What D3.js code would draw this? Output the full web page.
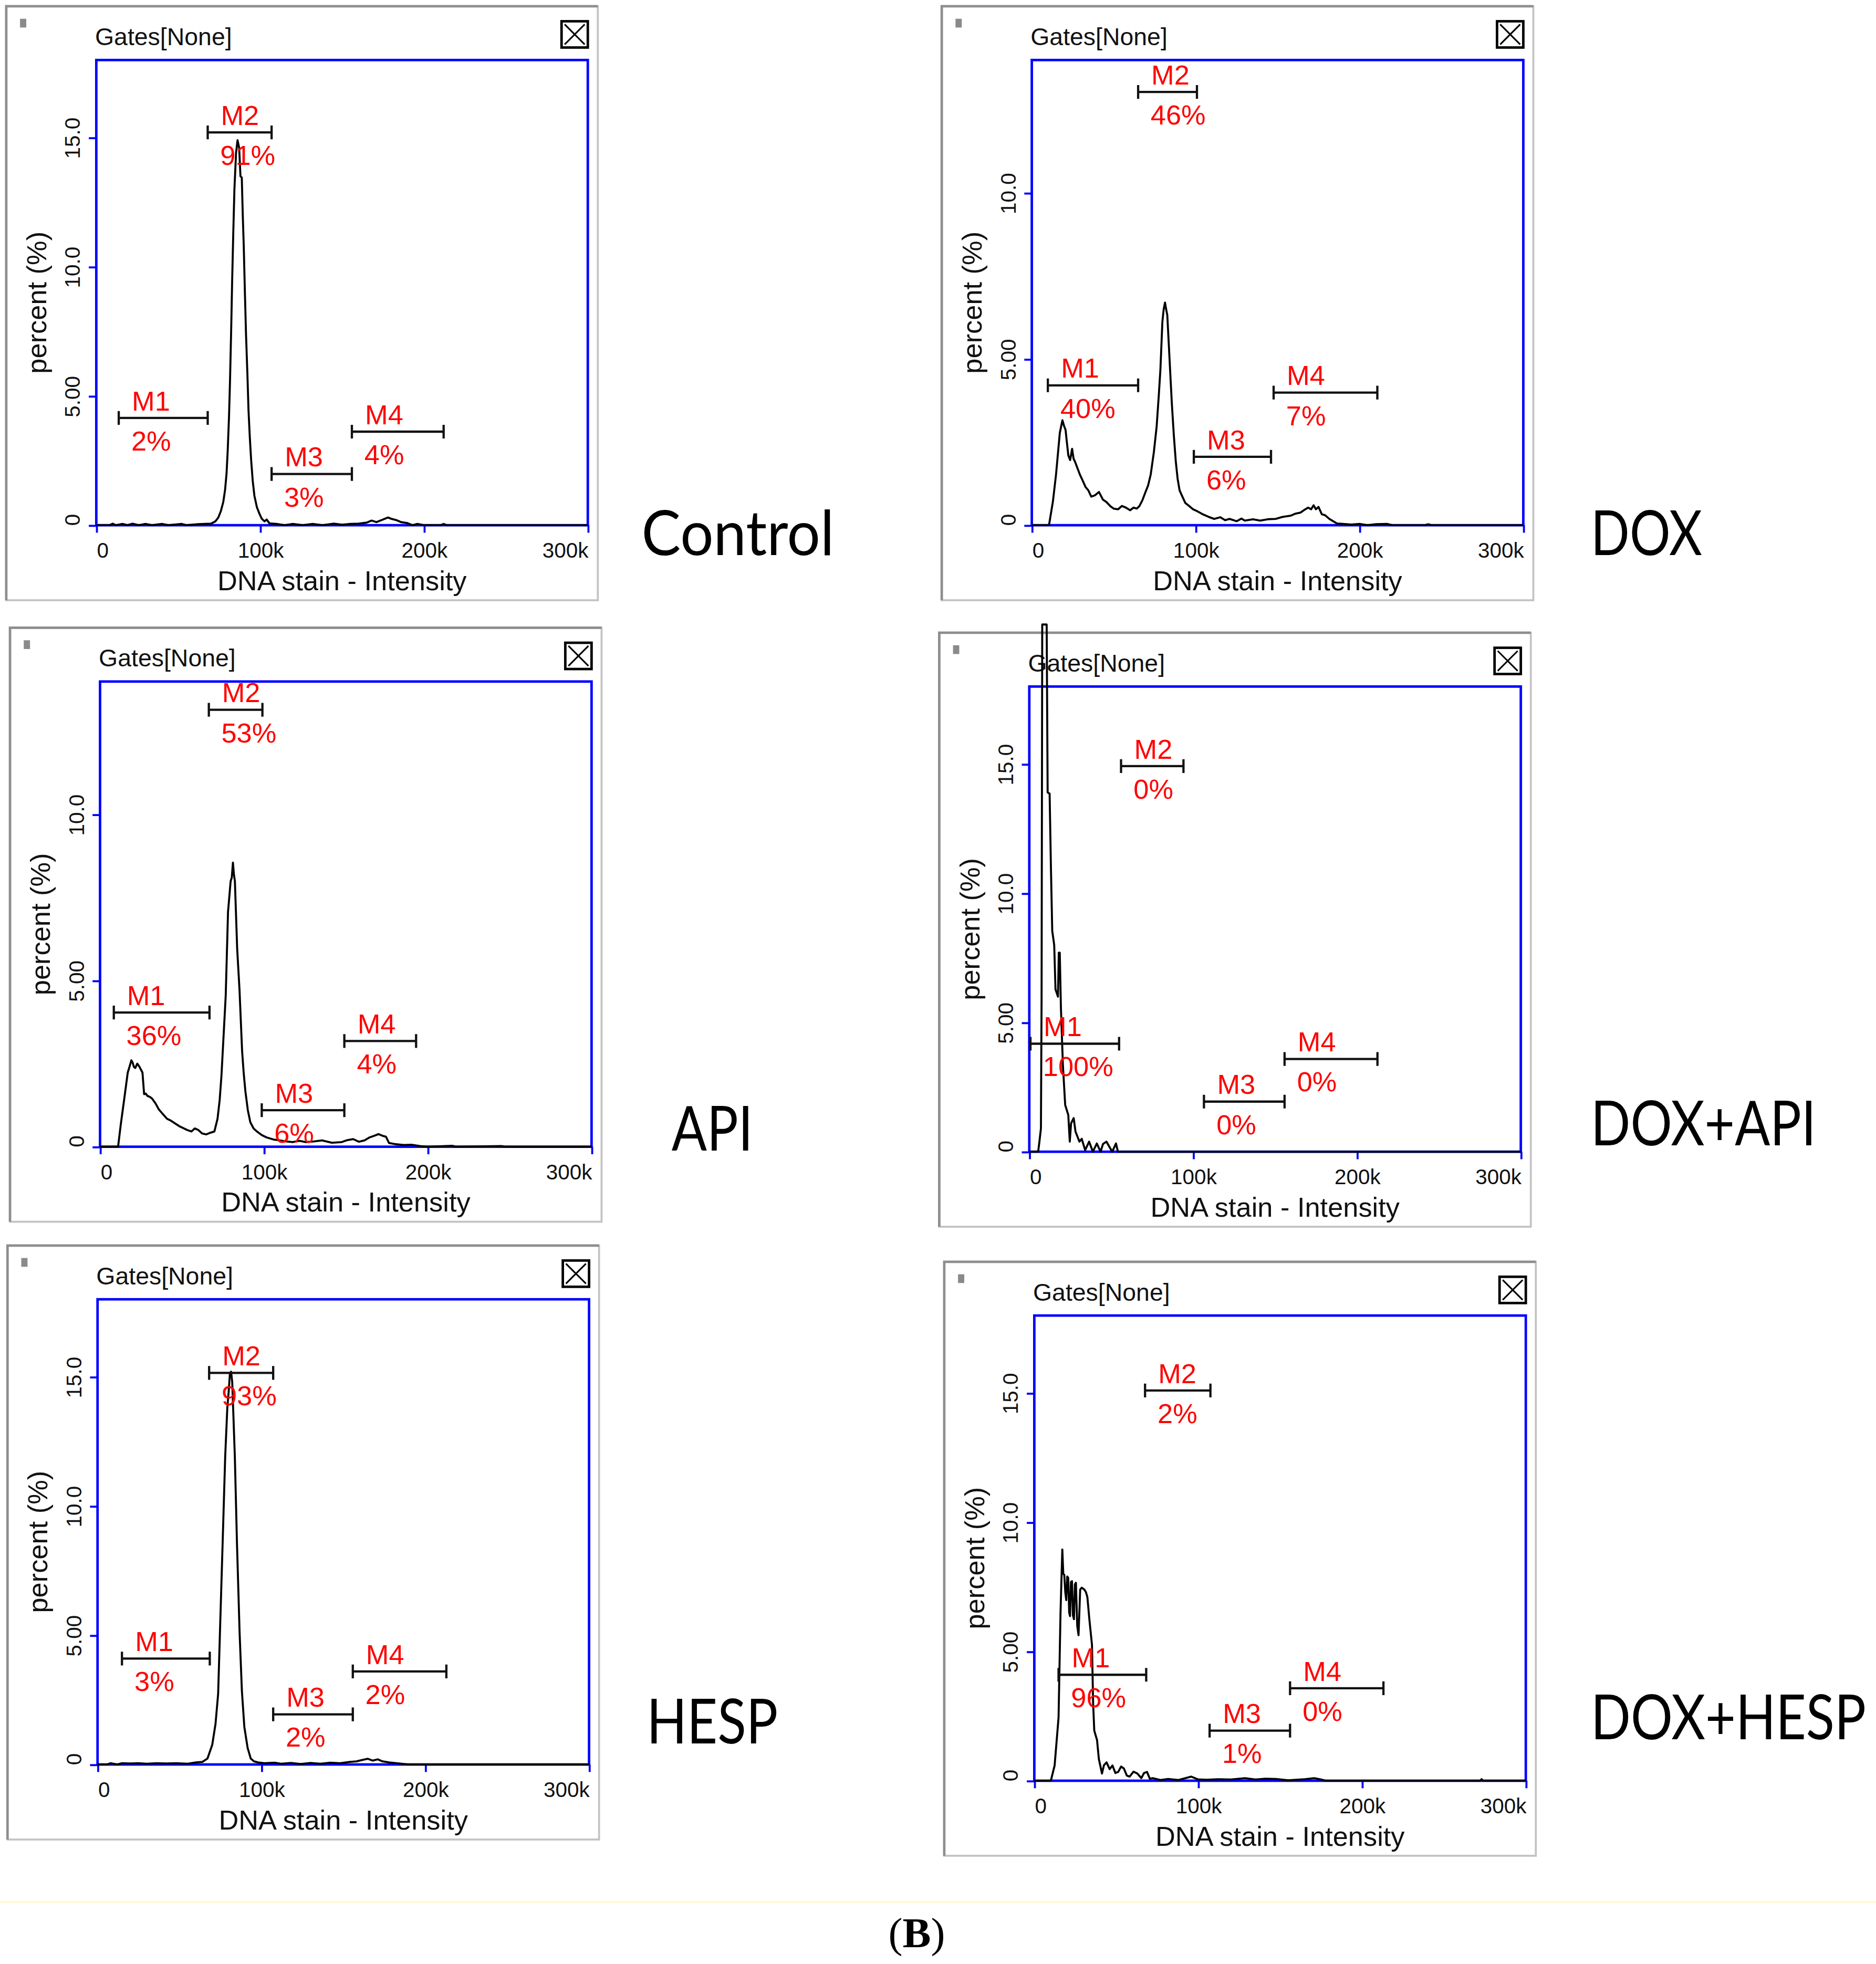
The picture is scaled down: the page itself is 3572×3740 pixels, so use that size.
<!DOCTYPE html>
<html>
<head>
<meta charset="utf-8">
<script src="https://cdn.jsdelivr.net/npm/d3@7"></script>
<style>
  body { margin: 0; background: #fff; }
  svg { display: block; }
</style>
</head>
<body>
<div id="chart"></div>
<script>
// panel names, y ranges, ticks
var panelNames = ["Control", "DOX", "API", "DOX+API", "HESP", "DOX+HESP"];
var yMaxes = [18, 14, 14, 18, 18, 18];
var yTicks = [[0, 5, 10, 15], [0, 5, 10], [0, 5, 10], [0, 5, 10, 15], [0, 5, 10, 15], [0, 5, 10, 15]];
var xTickValues = [0, 100, 200, 300];
var xTickLabels = ["0", "100k", "200k", "300k"];
var gateNames = ["M1", "M2", "M3", "M4"];

// gates: [start (k), end (k), height (%)]
var controlGates = [[13.7, 68, 4.15], [68, 107, 15.2], [107, 156, 1.98], [156, 212, 3.62]];
var doxGates = [[9.8, 64.9, 4.21], [64.9, 100.8, 13.04], [98.9, 146, 2.06], [147.6, 210.9, 3.99]];
var apiGates = [[8.4, 66.8, 4.04], [66.4, 99.1, 13.15], [98.7, 149.1, 1.1], [149.1, 192.9, 3.18]];
var doxApiGates = [[0.7, 54.8, 4.18], [56, 94.1, 14.92], [106.6, 155.8, 1.94], [155.8, 212.5, 3.59]];
var hespGates = [[14.9, 68.5, 4.1], [68.1, 107.2, 15.15], [107.2, 155.8, 1.94], [155.8, 212.9, 3.6]];
var doxHespGates = [[14.8, 68.3, 4.1], [67.6, 107.5, 15.1], [107, 156.1, 1.94], [156.1, 213.1, 3.58]];

var controlPct = ["2%", "91%", "3%", "4%"];
var doxPct = ["40%", "46%", "6%", "7%"];
var apiPct = ["36%", "53%", "6%", "4%"];
var doxApiPct = ["100%", "0%", "0%", "0%"];
var hespPct = ["3%", "93%", "2%", "2%"];
var doxHespPct = ["96%", "2%", "1%", "0%"];

// histograms: [DNA stain intensity (k), percent]
var controlHist = [[0,0],[8,0],[10,0.06],[12,0],[16,0.05],[19,0],[22,0.06],[26,0],[30,0.05],[34,0],[40,0.05],[44,0],[52,0.05],[55,0],[62,0.04],[70,0.06],[72.7,0.15],[74.5,0.3],[76.1,0.56],[77.5,0.9],[78.6,1.37],[79.5,2.0],[80.2,2.88],[81,4.2],[81.6,5.55],[82.3,7.5],[82.9,9.4],[83.6,11.3],[84.3,13.0],[85.3,14.4],[86.2,14.9],[87.2,14.6],[88,13.5],[88.8,13.45],[89.4,12.0],[90.0,10.8],[90.7,9.0],[91.4,7.35],[92.2,5.9],[92.9,4.45],[93.7,3.4],[94.5,2.53],[95.5,1.7],[96.5,1.14],[98,0.7],[99.6,0.44],[101,0.25],[102.7,0.15],[104,0.22],[105.7,0.07],[110,0.05],[115,0],[120,0.05],[126,0],[132,0.05],[138,0],[145,0.06],[150,0.02],[155,0.05],[160,0.06],[165,0.1],[168,0.18],[171,0.12],[175,0.22],[178,0.3],[180,0.25],[183,0.2],[186,0.12],[190,0.08],[193,0],[196,0.05],[200,0],[210,0],[212,0.05],[214,0],[300,0]];
var doxHist = [[0,0],[10.5,0],[12.9,0.72],[14.8,1.53],[17.1,2.78],[18.7,3.16],[19.6,3.0],[20.6,2.87],[21.4,2.5],[22.3,2.1],[23.4,1.96],[24.6,2.3],[25.5,2.0],[26.4,1.91],[28,1.7],[29.3,1.53],[31,1.35],[32.8,1.15],[34.5,1.05],[36.3,0.86],[38.5,0.9],[41,1.0],[43.4,0.77],[45.5,0.7],[48,0.57],[50,0.5],[52.7,0.48],[55,0.58],[57.4,0.53],[60,0.45],[62.1,0.53],[64,0.5],[65.6,0.57],[67.5,0.75],[69.1,0.96],[71,1.2],[72.6,1.53],[74.5,2.2],[76.2,2.97],[77.5,3.9],[78.5,4.69],[79.7,6.12],[80.5,6.5],[81.3,6.7],[82,6.5],[82.7,6.32],[83.9,5.17],[84.7,4.4],[85.5,3.64],[86.7,2.7],[87.9,1.91],[89,1.4],[90.2,1.05],[92,0.85],[93.7,0.67],[96,0.58],[98.4,0.48],[101,0.42],[104.3,0.33],[108,0.25],[111.3,0.19],[115,0.24],[118,0.15],[120.7,0.19],[125,0.12],[128,0.2],[130,0.14],[135,0.18],[139.4,0.14],[144,0.18],[148.8,0.19],[153,0.25],[158.2,0.29],[161,0.35],[164,0.38],[166,0.45],[168.7,0.53],[170.5,0.48],[172,0.6],[173.4,0.48],[175,0.55],[177,0.33],[179,0.3],[181.6,0.19],[184,0.12],[186.3,0.05],[190,0.04],[195,0.02],[200,0.04],[205,0],[210,0.03],[216.8,0.04],[220,0],[240,0],[242,0.03],[244,0],[300,0]];
var apiHist = [[0,0],[11,0],[12.6,0.65],[14.9,1.49],[16.9,2.23],[18.3,2.46],[19.1,2.6],[19.9,2.53],[20.7,2.4],[21.5,2.37],[22.7,2.5],[23.9,2.42],[25.9,2.23],[26.9,1.58],[27.9,1.6],[28.9,1.53],[30.4,1.5],[31.9,1.44],[33.9,1.3],[35.9,1.12],[38.4,0.98],[40.9,0.84],[43.4,0.78],[45.8,0.7],[48.3,0.62],[50.8,0.56],[53.3,0.5],[55.8,0.46],[57.8,0.55],[59.8,0.51],[62.3,0.4],[64.8,0.37],[67.3,0.42],[69.8,0.46],[71.7,0.84],[73,1.4],[74.1,2.14],[75.7,3.62],[76.7,4.55],[77.4,5.8],[78.1,7.06],[79.7,7.99],[80.4,8.1],[81.1,8.55],[81.7,8.2],[82.3,7.99],[83.7,5.95],[85.1,4.74],[86.7,2.88],[87.7,2.2],[88.7,1.67],[90.2,1.1],[91.7,0.74],[93.7,0.55],[95.7,0.46],[98.7,0.35],[101.7,0.28],[105.7,0.22],[109.7,0.19],[113.7,0.16],[117.6,0.14],[121.6,0.18],[125.6,0.14],[130.5,0.16],[135.5,0.19],[141.5,0.12],[147.5,0.14],[151,0.2],[154.5,0.23],[158,0.15],[161.4,0.19],[164.5,0.28],[167.4,0.33],[170,0.38],[172.4,0.33],[174.5,0.3],[176.4,0.11],[180,0.08],[185.4,0.05],[190,0.06],[195.3,0.02],[200,0],[215,0.03],[217,0],[245,0.02],[247,0],[300,0]];
var doxApiHist = [[0,0],[5.4,0],[6.2,0.4],[7.1,0.9],[7.5,5.96],[7.9,20.4],[10.6,20.4],[11.2,13.9],[12.4,13.86],[13.2,11],[14,8.55],[15.2,8.0],[16,6.28],[17.5,6.0],[18,7.7],[18.6,7.7],[19.3,5.57],[20.5,3.37],[21.9,1.81],[23.8,1.42],[24.7,0.39],[25.5,1.1],[27.1,1.3],[28.2,0.78],[30.6,0.39],[32,0.5],[34.1,0.06],[36.5,0.39],[38.8,0],[41.2,0.32],[43.5,0],[45,0.3],[47.1,0.39],[50.6,0],[52.9,0.32],[54.1,0],[300,0]];
var hespHist = [[0,0],[6,0],[8,0.05],[12,0],[15,0.05],[20,0.04],[25,0.05],[30,0.03],[36,0.05],[42,0.04],[48,0.05],[55,0.03],[60,0.08],[64,0.1],[67.1,0.23],[70,0.76],[72,1.57],[73.6,2.73],[74.9,5.52],[76.5,8.9],[77.9,11.9],[79.2,13.8],[80.0,14.4],[80.8,15.13],[81.5,15.2],[82.2,14.8],[83.8,11.9],[85.1,8.55],[86.7,5.1],[88.1,2.85],[89.6,1.45],[91.6,0.64],[93.5,0.23],[95.5,0.12],[98,0.08],[102,0.05],[108,0.07],[112,0.03],[118,0.06],[124,0.02],[130,0.06],[136,0.03],[142,0.07],[148,0.05],[154,0.1],[158,0.12],[162,0.18],[165,0.22],[168,0.15],[171,0.2],[174,0.12],[178,0.08],[184,0.04],[190,0],[300,0]];
var doxHespHist = [[0,0],[10.1,0],[12.4,0.59],[14.8,2.44],[16,6.5],[17.1,8.95],[17.7,8.0],[18.3,7.97],[18.9,7.3],[19.5,6.99],[20.1,7.9],[20.7,7.85],[21.3,6.5],[21.8,6.37],[22.4,7.7],[23,7.72],[23.6,6.4],[24.2,6.25],[24.8,7.6],[25.4,7.66],[26.2,6.0],[27,5.63],[28,7.4],[28.9,7.47],[30.5,7.4],[31.5,7.3],[32.4,7.1],[33.6,6.25],[35.2,5.26],[35.9,3.0],[36.6,1.94],[38.3,1.57],[39.4,0.84],[41.3,0.28],[42.5,0.6],[44.1,0.71],[46,0.45],[47.7,0.59],[49.5,0.3],[51.2,0.34],[53,0.55],[54.7,0.47],[56.5,0.2],[58.2,0.16],[60.5,0.35],[62.9,0.28],[65.3,0.1],[67,0.3],[68.8,0.34],[70.5,0.08],[72.3,0.1],[77,0.03],[81.7,0.07],[88,0.03],[95.8,0.16],[100,0.05],[105.2,0.04],[112,0.06],[120,0.05],[128.6,0.1],[135,0.05],[141,0.08],[147.4,0.07],[155,0.02],[165,0.06],[170.9,0.1],[175,0.05],[178,0],[272,0],[273,0.06],[274,0],[300,0]];

var allGates = [controlGates, doxGates, apiGates, doxApiGates, hespGates, doxHespGates];
var allPct = [controlPct, doxPct, apiPct, doxApiPct, hespPct, doxHespPct];
var allHist = [controlHist, doxHist, apiHist, doxApiHist, hespHist, doxHespHist];

// layout (in 1500-wide units)
var svgWidth = 3572, svgHeight = 3740;
var k = svgWidth / 1500;
var vbH = svgHeight / k;

var frameOrigins = [[5, 5], [753, 5], [8, 502], [751, 506], [6, 996], [755, 1009]];
var frameW = 473, frameH = 475;
var plotLeft = 72, plotTop = 43, plotW = 393, plotH = 372;
var labelPos = [[513, 444, 154], [1272, 444, 89], [537, 920, 65], [1272, 916, 180], [517, 1394, 105], [1272, 1391, 220]];

var sans = "'Liberation Sans', Arial, sans-serif";

var svg = d3.select("#chart")
  .append("svg")
  .attr("width", svgWidth)
  .attr("height", svgHeight)
  .attr("viewBox", `0 0 1500 ${vbH}`);

svg.append("rect").attr("width", 1500).attr("height", vbH).attr("fill", "#fff");

function yLabel(v) {
  if (v === 0) return "0";
  return v < 10 ? v.toFixed(2) : v.toFixed(1);
}

function drawPanel(i) {
  var fx = frameOrigins[i][0], fy = frameOrigins[i][1];
  var g = svg.append("g").attr("transform", `translate(${fx}, ${fy})`);

  // window frame
  g.append("rect")
    .attr("width", frameW).attr("height", frameH)
    .attr("fill", "#fff").attr("stroke", "#c4c4c4").attr("stroke-width", 1.6);
  g.append("path")
    .attr("d", `M0,${frameH} V0 H${frameW}`)
    .attr("fill", "none").attr("stroke", "#8e8e8e").attr("stroke-width", 2);

  g.append("rect").attr("x", 11).attr("y", 10).attr("width", 5).attr("height", 7).attr("fill", "#8a8a8a");

  g.append("text")
    .attr("x", 71).attr("y", 31)
    .attr("font-family", sans).attr("font-size", 19.5)
    .attr("fill", "#111")
    .text("Gates[None]");

  // close box
  var cb = g.append("g").attr("transform", "translate(444, 12)");
  cb.append("rect").attr("width", 21).attr("height", 21)
    .attr("fill", "none").attr("stroke", "#000").attr("stroke-width", 2);
  cb.append("path").attr("d", "M2.5,2.5 L18.5,18.5 M18.5,2.5 L2.5,18.5")
    .attr("stroke", "#000").attr("stroke-width", 1.3);

  var chartGroup = g.append("g").attr("transform", `translate(${plotLeft}, ${plotTop})`);

  var x = d3.scaleLinear().domain([0, 300]).range([0, plotW]);
  var y = d3.scaleLinear().domain([0, yMaxes[i]]).range([plotH, 0]);

  chartGroup.append("rect")
    .attr("width", plotW).attr("height", plotH)
    .attr("fill", "none").attr("stroke", "#0000ff").attr("stroke-width", 2);

  // axes
  var bottomAxis = d3.axisBottom(x)
    .tickValues(xTickValues)
    .tickFormat(function(d, j) { return xTickLabels[j]; })
    .tickSize(6);
  var xAxis = chartGroup.append("g")
    .attr("transform", `translate(0, ${plotH})`)
    .call(bottomAxis);
  xAxis.select(".domain").remove();
  xAxis.selectAll(".tick line").attr("stroke", "#0000ff").attr("stroke-width", 1.6);
  xAxis.selectAll(".tick text")
    .attr("y", 26).attr("dy", 0)
    .attr("font-family", sans).attr("font-size", 17).attr("fill", "#111")
    .attr("text-anchor", function(d, j) { return j === 0 ? "start" : (j === xTickValues.length - 1 ? "end" : "middle"); });

  var leftAxis = d3.axisLeft(y).tickValues(yTicks[i]).tickFormat(yLabel).tickSize(6);
  var yAxis = chartGroup.append("g").call(leftAxis);
  yAxis.select(".domain").remove();
  yAxis.selectAll(".tick line").attr("stroke", "#0000ff").attr("stroke-width", 1.6);
  yAxis.selectAll(".tick text")
    .attr("transform", "rotate(-90)")
    .attr("x", 0).attr("y", -13).attr("dy", 0)
    .attr("font-family", sans).attr("font-size", 17).attr("fill", "#111")
    .attr("text-anchor", function(d) { return d === 0 ? "start" : "middle"; });
  xAxis.attr("font-size", null).attr("font-family", null);
  yAxis.attr("font-size", null).attr("font-family", null);

  // axis titles
  chartGroup.append("text")
    .attr("transform", `translate(-40, ${plotH / 2 + 8}) rotate(-90)`)
    .attr("text-anchor", "middle")
    .attr("font-family", sans).attr("font-size", 22).attr("fill", "#111")
    .text("percent (%)");
  chartGroup.append("text")
    .attr("x", plotW / 2).attr("y", plotH + 52)
    .attr("text-anchor", "middle")
    .attr("font-family", sans).attr("font-size", 22).attr("fill", "#111")
    .text("DNA stain - Intensity");

  // histogram
  var line = d3.line()
    .x(function(d) { return x(d[0]); })
    .y(function(d) { return y(d[1]); });
  chartGroup.append("path")
    .datum(allHist[i])
    .attr("d", line)
    .attr("fill", "none").attr("stroke", "#000").attr("stroke-width", 1.6)
    .attr("stroke-linejoin", "round");

  // gate markers
  var gates = chartGroup.selectAll(".gate")
    .data(allGates[i])
    .enter()
    .append("g")
    .attr("class", "gate");
  gates.append("path")
    .attr("d", function(d) {
      var x1 = x(d[0]), x2 = x(d[1]), yy = y(d[2]);
      return `M${x1},${yy} H${x2} M${x1},${yy - 5.5} V${yy + 5.5} M${x2},${yy - 5.5} V${yy + 5.5}`;
    })
    .attr("fill", "none").attr("stroke", "#111").attr("stroke-width", 1.8);
  gates.append("text")
    .attr("x", function(d) { return x(d[0]) + 10.5; })
    .attr("y", function(d) { return y(d[2]) - 6; })
    .attr("font-family", sans).attr("font-size", 22).attr("fill", "#ff0000")
    .text(function(d, j) { return gateNames[j]; });
  gates.append("text")
    .attr("x", function(d) { return x(d[0]) + 10; })
    .attr("y", function(d) { return y(d[2]) + 26; })
    .attr("font-family", sans).attr("font-size", 22).attr("fill", "#ff0000")
    .text(function(d, j) { return allPct[i][j]; });
}

panelNames.forEach(function(name, i) { drawPanel(i); });

// condition labels, squeezed horizontally to the reference width
svg.selectAll(".cond")
  .data(panelNames)
  .enter()
  .append("text")
  .attr("class", "cond")
  .attr("font-family", "Lato, 'Open Sans', sans-serif")
  .attr("font-size", 50)
  .attr("fill", "#000")
  .text(function(d) { return d; })
  .attr("transform", function(d, i) {
    var natural = this.getComputedTextLength();
    var sx = labelPos[i][2] / natural;
    return `translate(${labelPos[i][0]}, ${labelPos[i][1]}) scale(${sx}, 1)`;
  });

svg.append("line")
  .attr("x1", 0).attr("x2", 1500).attr("y1", 1521).attr("y2", 1521)
  .attr("stroke", "#fff8c8").attr("stroke-width", 1.3);

var bLabel = svg.append("text")
  .attr("x", 733).attr("y", 1557)
  .attr("text-anchor", "middle")
  .attr("font-family", "'Liberation Serif', 'Times New Roman', serif")
  .attr("font-size", 34)
  .attr("fill", "#000");
bLabel.append("tspan").text("(");
bLabel.append("tspan").attr("font-weight", "bold").text("B");
bLabel.append("tspan").text(")");
</script>
</body>
</html>
